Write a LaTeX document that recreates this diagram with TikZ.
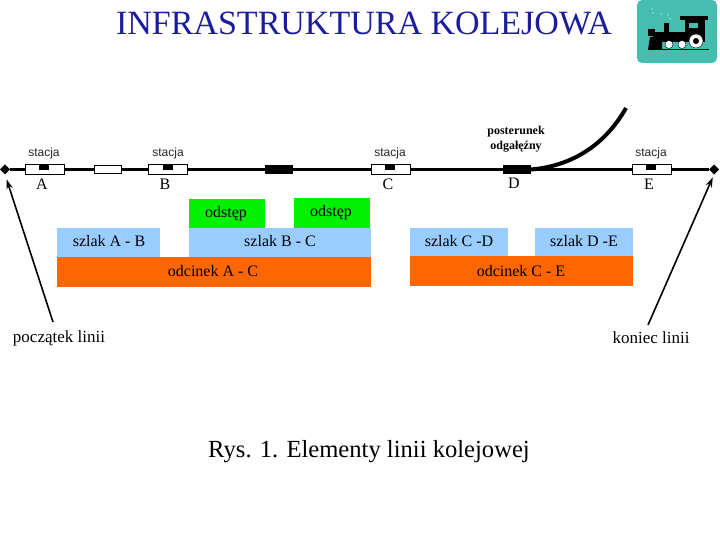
\documentclass[tikz,border=0pt]{standalone}
\usepackage{xcolor}
\usepackage{fontspec}
\setmainfont{Liberation Serif}
\setsansfont{Liberation Sans}
\usetikzlibrary{positioning, arrows.meta, shapes.geometric}

\definecolor{tytul}{HTML}{1C1CA0}
\definecolor{zielen}{HTML}{00F000}
\definecolor{niebieski}{HTML}{99CCFF}
\definecolor{pomarancz}{HTML}{FF6600}
\definecolor{morski}{HTML}{47BDB0}

\begin{document}
\begin{tikzpicture}[
    x=1pt, y=-1pt,
    inner sep=0pt, outer sep=0pt,
    stacja/.style={rectangle, draw, line width=0.9pt, fill=white, minimum width=39pt, minimum height=10pt},
    peron/.style={rectangle, fill=black, minimum width=10pt, minimum height=5.5pt},
    posterunek/.style={rectangle, fill=black, minimum width=28pt, minimum height=8.5pt},
    blok/.style={rectangle, draw, line width=0.9pt, fill=white, minimum width=27pt, minimum height=8pt},
    kraniec/.style={diamond, fill=black, minimum width=10pt, minimum height=10pt},
    napis/.style={font=\sffamily\fontsize{12}{12}\selectfont, text=black!85},
    litera/.style={font=\fontsize{16}{16}\selectfont},
    opis/.style={font=\fontsize{16}{16}\selectfont},
    tor/.style={line width=3.6pt},
    strzalka/.style={-{Stealth[length=10pt,width=6.5pt]}, line width=1.6pt},
    pole/.style={rectangle, anchor=north west, minimum height=29pt}
]
\useasboundingbox (0,0) rectangle (720,540);

\node[font=\fontsize{34}{34}\selectfont, text=tytul] (tytul) at (364,24) {INFRASTRUKTURA KOLEJOWA};

% logo
\node[rectangle, rounded corners=5pt, fill=morski, minimum width=80pt, minimum height=63pt] (logo) at (677,31.5) {};
\fill[black] (680,16) rectangle (708,20);
\fill[black] (685,20) rectangle (705,42);
\fill[morski] (689,23) rectangle (698,28);
\fill[black] (653,32) rectangle (686,42);
\fill[black] (664,23) rectangle (669,32);
\fill[black] (648,29) rectangle (655,36);
\fill[black] (650,37) -- (662,37) -- (662,50) -- (648,50) -- cycle;
\draw[black, line width=1pt] (662,49.5) -- (709,49.5);
\fill[white, draw=black] (669,44.5) circle (4pt);
\fill[white, draw=black] (682,44.5) circle (4pt);
\fill[white, draw=black] (696,41) circle (7pt);
\fill[black] (696,41) circle (3pt);
\foreach \sx/\sy in {652/9, 653/13, 661/14, 668/15, 670/19}
    \fill[white] (\sx,\sy) circle (0.7pt);

% tor i stacje
\node[kraniec] (pocz) at (5,169.5) {};
\node[kraniec] (kon) at (714,169.5) {};
\node[stacja] (stA) at (44.5,169.5) {};
\node[blok] (blokAB) at (107.5,169.5) {};
\node[stacja] (stB) at (168,169.5) {};
\node[posterunek] (blokBC) at (279,169.5) {};
\node[stacja] (stC) at (391,169.5) {};
\node[posterunek] (stD) at (517,169.5) {};
\node[stacja] (stE) at (652,169.5) {};

\draw[tor] (pocz) -- (stA);
\draw[tor] (stA) -- (blokAB);
\draw[tor] (blokAB) -- (stB);
\draw[tor] (stB) -- (blokBC);
\draw[tor] (blokBC) -- (stC);
\draw[tor] (stC) -- (stD);
\draw[tor] (stD) -- (stE);
\draw[tor] (stE) -- (kon);
\draw[line width=4pt] (stD.east) .. controls (572,166) and (605,145) .. (626,108);

\node[peron] at (44,167) {};
\node[peron] at (168,167) {};
\node[peron] at (390,167) {};
\node[peron] at (651,167) {};

\node[napis] at (44,153) {stacja};
\node[napis] at (168,153) {stacja};
\node[napis] at (390,153) {stacja};
\node[napis] at (651,153) {stacja};

\node[litera] at (42,184) {A};
\node[litera] at (165,184) {B};
\node[litera] at (388,184) {C};
\node[litera] at (514,183) {D};
\node[litera] at (649,184) {E};

\node[font=\bfseries\fontsize{12}{15}\selectfont, align=center] (postop) at (516,139) {posterunek\\odgałęźny};

% pola
\node[pole, fill=zielen, minimum width=76pt] (ods1) at (189,199) {};
\node[pole, fill=zielen, minimum width=76pt, minimum height=30pt] (ods2) at (294,198) {};
\node[pole, fill=niebieski, minimum width=103pt] (szAB) at (57,228) {};
\node[pole, fill=niebieski, minimum width=182pt] (szBC) at (189,228) {};
\node[pole, fill=pomarancz, minimum width=314pt, minimum height=30pt] (odAC) at (57,257) {};
\node[pole, fill=niebieski, minimum width=98pt, minimum height=28pt] (szCD) at (410,228) {};
\node[pole, fill=niebieski, minimum width=98pt, minimum height=28pt] (szDE) at (535,228) {};
\node[pole, fill=pomarancz, minimum width=223pt, minimum height=30pt] (odCE) at (410,256) {};

\node[opis] at (226,214) {odstęp};
\node[opis] at (331,213) {odstęp};
\node[opis] at (109,241) {szlak A - B};
\node[opis] at (280,241) {szlak B - C};
\node[opis] at (213,271) {odcinek A - C};
\node[opis] at (459,241) {szlak C -D};
\node[opis] at (584,241) {szlak D -E};
\node[opis] at (521,271) {odcinek C - E};

% poczatek i koniec
\node[opis, font=\fontsize{17}{17}\selectfont] (lewy) at (59,338) {początek linii};
\node[opis, font=\fontsize{17}{17}\selectfont] (prawy) at (651,338) {koniec linii};
\coordinate (lewyS) at (53,322);
\coordinate (prawyS) at (648,325);
\draw[strzalka, shorten >=5pt] (lewyS) -- (pocz.south);
\draw[strzalka, shorten >=3pt] (prawyS) -- (kon.south);

\node[font=\fontsize{24.6}{24.6}\selectfont] (rys) at (369,452) {Rys. 1. Elementy linii kolejowej};

\end{tikzpicture}
\end{document}
